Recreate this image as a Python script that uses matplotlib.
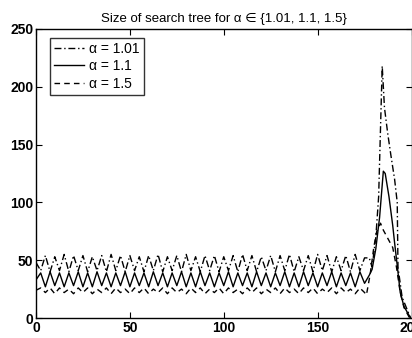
import numpy as np
import matplotlib
matplotlib.use("Agg")
import matplotlib.pyplot as plt

plt.rcParams['font.family'] = ['Liberation Sans', 'DejaVu Sans']

# oscillating part, x = 0 .. 175 in steps of 2.5
x_osc = np.arange(0, 175.1, 2.5)

a101_osc = [48, 41, 54, 40, 53, 41, 55, 40, 54, 41,
            54, 40, 53, 41, 54, 40, 55, 41, 54, 40,
            54, 41, 53, 40, 54, 41, 55, 40, 53, 41,
            54, 40, 55, 41, 53, 40, 54, 41, 54, 40,
            53, 41, 54, 40, 55, 41, 54, 40, 53, 41,
            54, 40, 54, 41, 55, 40, 53, 41, 54, 40,
            55, 41, 54, 40, 53, 41, 54, 40, 55, 41,
            52]
a11_osc = [33, 39, 27, 40, 28, 39, 27, 39, 28, 40,
           27, 39, 27, 40, 28, 39, 27, 39, 28, 40,
           27, 39, 28, 39, 27, 40, 28, 39, 27, 39,
           28, 40, 27, 39, 27, 40, 28, 39, 27, 39,
           28, 40, 27, 39, 28, 39, 27, 40, 28, 39,
           27, 39, 28, 40, 27, 39, 27, 40, 28, 39,
           27, 39, 28, 40, 27, 39, 28, 39, 27, 40,
           30]
a15_osc = [24, 26, 22, 26, 21, 26, 22, 25, 21, 26,
           22, 26, 21, 25, 22, 26, 21, 26, 22, 25,
           21, 26, 22, 26, 21, 25, 22, 26, 21, 26,
           22, 25, 21, 26, 22, 26, 21, 25, 22, 26,
           21, 26, 22, 25, 21, 26, 22, 26, 21, 25,
           22, 26, 21, 26, 22, 25, 21, 26, 22, 26,
           21, 25, 22, 26, 21, 26, 22, 25, 21, 26,
           22]

# the burst near the end
a101_x = [177.5, 179, 181, 182.5, 184.4, 185.6, 187.3, 189, 191, 192.4, 192.8, 195, 199.5]
a101_y = [52, 44, 70, 105, 218, 182, 160, 141, 120, 100, 44, 18, 0]
a11_x = [177.5, 179, 181, 183, 185, 186, 188, 190, 191, 192.5, 194, 196, 199.5]
a11_y = [37, 42, 60, 87, 127, 125, 105, 80, 65, 44, 22, 10, 0]
a15_x = [176, 178, 180, 181.5, 183.5, 185, 187, 190, 192, 194, 196, 199]
a15_y = [20, 38, 62, 75, 82, 76, 70, 61, 44, 22, 9, 0]

labels = ['\u03b1 = 1.01', '\u03b1 = 1.1', '\u03b1 = 1.5']

fig = plt.figure(figsize=(4.12, 3.38), dpi=100)
ax = fig.add_axes([36 / 412, 1 - 318 / 338, 375.5 / 412, 289 / 338])

ax.plot(np.concatenate([x_osc, a101_x]), a101_osc + a101_y, color='black', lw=1.0,
        linestyle=(0, (5, 2, 1, 2)), label=labels[0])
ax.plot(np.concatenate([x_osc, a11_x]), a11_osc + a11_y, color='black', lw=1.0,
        linestyle='-', label=labels[1])
ax.plot(np.concatenate([x_osc, a15_x]), a15_osc + a15_y, color='black', lw=1.0,
        linestyle=(0, (4, 3)), label=labels[2])

ax.set_xlim(0, 200)
ax.set_ylim(0, 250)
ax.set_xticks([0, 50, 100, 150, 200])
ax.set_yticks([0, 50, 100, 150, 200, 250])
ax.tick_params(direction='in', top=True, right=True, length=4, labelsize=10, pad=2)
for lab in ax.get_xticklabels() + ax.get_yticklabels():
    lab.set_fontweight('bold')
for s in ax.spines.values():
    s.set_linewidth(1.0)

ax.set_title('Size of search tree for \u03b1 \u2208 {1.01, 1.1, 1.5}', fontsize=9.5, pad=5)

leg = ax.legend(loc='upper left', fontsize=10, frameon=True, fancybox=False,
                edgecolor='black', handlelength=2.1, handletextpad=0.4,
                borderpad=0.3, labelspacing=0.25, borderaxespad=0,
                bbox_to_anchor=(0.038, 0.97))
leg.get_frame().set_linewidth(1.0)

fig.savefig('out.png', dpi=100)
